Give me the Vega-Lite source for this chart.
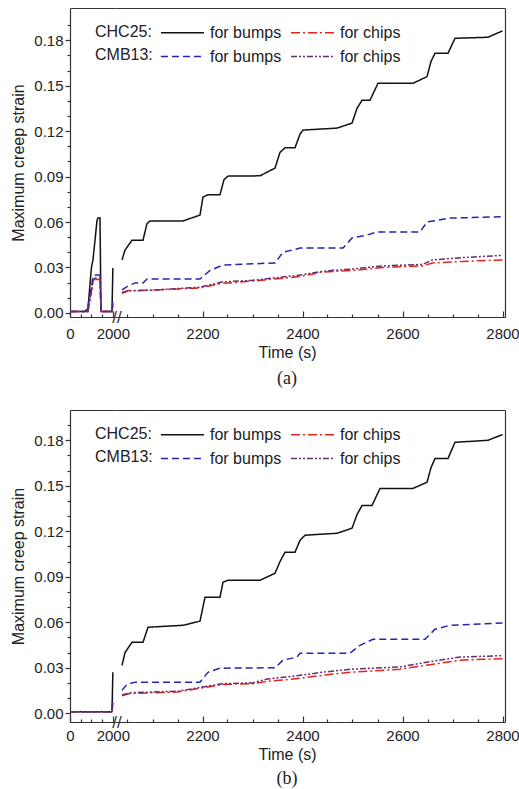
{
"$schema": "https://vega.github.io/schema/vega-lite/v6.json",
"padding": {"left": 10, "top": 8, "right": 15, "bottom": 2},
"config": {
  "font": "Liberation Sans",
  "view": {"stroke": null},
  "axis": {"labelFont": "Liberation Sans", "labelFontSize": 15, "labelColor": "#222", "titleFont": "Liberation Sans", "titleFontSize": 16, "titleFontWeight": "normal", "titleColor": "#222", "domainColor": "#333", "tickColor": "#333", "grid": false, "domainWidth": 1.2, "tickWidth": 1.2, "labelFlush": false, "labelOverlap": false},
  "title": {"font": "Liberation Serif", "fontSize": 18, "fontWeight": "normal", "color": "#222"},
  "line": {"strokeWidth": 1.5},
  "text": {"font": "Liberation Sans"},
  "legend": {"orient": "none", "legendX": -20, "legendY": 16, "columns": 2, "columnPadding": 5, "rowPadding": 7, "symbolType": "M-2.87,0H2.87", "symbolSize": 225, "symbolStrokeWidth": 1.5, "labelFont": "Liberation Sans", "labelFontSize": 16, "labelColor": "#222", "labelOffset": 19, "titleFont": "Liberation Sans", "titleFontSize": 16, "titleFontWeight": "normal", "titleColor": "#222", "titleLineHeight": 23, "titlePadding": 21, "titleOrient": "left", "titleBaseline": "top", "titleAnchor": "start"}
},
"data": {"values": [
{"p":"a","s":1,"k":"CHC25 bumps","t":0,"v":0.001},{"p":"a","s":1,"k":"CHC25 bumps","t":700,"v":0.001},{"p":"a","s":1,"k":"CHC25 bumps","t":840,"v":0.003},{"p":"a","s":1,"k":"CHC25 bumps","t":1000,"v":0.03},{"p":"a","s":1,"k":"CHC25 bumps","t":1073,"v":0.035},{"p":"a","s":1,"k":"CHC25 bumps","t":1260,"v":0.061},{"p":"a","s":1,"k":"CHC25 bumps","t":1300,"v":0.0626},{"p":"a","s":1,"k":"CHC25 bumps","t":1400,"v":0.0626},{"p":"a","s":1,"k":"CHC25 bumps","t":1447,"v":0.001},{"p":"a","s":1,"k":"CHC25 bumps","t":1960,"v":0.001},{"p":"a","s":1,"k":"CHC25 bumps","t":2000,"v":0.0297},
{"p":"a","s":1,"k":"CHC25 chips","t":0,"v":0.001},{"p":"a","s":1,"k":"CHC25 chips","t":840,"v":0.001},{"p":"a","s":1,"k":"CHC25 chips","t":1073,"v":0.02},{"p":"a","s":1,"k":"CHC25 chips","t":1170,"v":0.022},{"p":"a","s":1,"k":"CHC25 chips","t":1400,"v":0.022},{"p":"a","s":1,"k":"CHC25 chips","t":1447,"v":0.001},{"p":"a","s":1,"k":"CHC25 chips","t":1960,"v":0.001},{"p":"a","s":1,"k":"CHC25 chips","t":2000,"v":0.005},
{"p":"a","s":1,"k":"CMB13 bumps","t":0,"v":0.001},{"p":"a","s":1,"k":"CMB13 bumps","t":800,"v":0.001},{"p":"a","s":1,"k":"CMB13 bumps","t":1073,"v":0.0237},{"p":"a","s":1,"k":"CMB13 bumps","t":1120,"v":0.025},{"p":"a","s":1,"k":"CMB13 bumps","t":1400,"v":0.025},{"p":"a","s":1,"k":"CMB13 bumps","t":1447,"v":0.001},{"p":"a","s":1,"k":"CMB13 bumps","t":1960,"v":0.001},{"p":"a","s":1,"k":"CMB13 bumps","t":2000,"v":0.008},
{"p":"a","s":1,"k":"CMB13 chips","t":0,"v":0.001},{"p":"a","s":1,"k":"CMB13 chips","t":840,"v":0.001},{"p":"a","s":1,"k":"CMB13 chips","t":1073,"v":0.021},{"p":"a","s":1,"k":"CMB13 chips","t":1170,"v":0.023},{"p":"a","s":1,"k":"CMB13 chips","t":1400,"v":0.023},{"p":"a","s":1,"k":"CMB13 chips","t":1447,"v":0.001},{"p":"a","s":1,"k":"CMB13 chips","t":1960,"v":0.001},{"p":"a","s":1,"k":"CMB13 chips","t":2000,"v":0.006},
{"p":"a","s":2,"k":"CHC25 bumps","t":2039,"v":0.035},{"p":"a","s":2,"k":"CHC25 bumps","t":2045,"v":0.0415},{"p":"a","s":2,"k":"CHC25 bumps","t":2059,"v":0.048},{"p":"a","s":2,"k":"CHC25 bumps","t":2081,"v":0.048},{"p":"a","s":2,"k":"CHC25 bumps","t":2089,"v":0.059},{"p":"a","s":2,"k":"CHC25 bumps","t":2095,"v":0.0607},{"p":"a","s":2,"k":"CHC25 bumps","t":2161,"v":0.0607},{"p":"a","s":2,"k":"CHC25 bumps","t":2195,"v":0.0646},{"p":"a","s":2,"k":"CHC25 bumps","t":2201,"v":0.0765},{"p":"a","s":2,"k":"CHC25 bumps","t":2211,"v":0.078},{"p":"a","s":2,"k":"CHC25 bumps","t":2235,"v":0.078},{"p":"a","s":2,"k":"CHC25 bumps","t":2243,"v":0.088},{"p":"a","s":2,"k":"CHC25 bumps","t":2251,"v":0.0903},{"p":"a","s":2,"k":"CHC25 bumps","t":2315,"v":0.0905},{"p":"a","s":2,"k":"CHC25 bumps","t":2345,"v":0.0956},{"p":"a","s":2,"k":"CHC25 bumps","t":2355,"v":0.106},{"p":"a","s":2,"k":"CHC25 bumps","t":2365,"v":0.109},{"p":"a","s":2,"k":"CHC25 bumps","t":2385,"v":0.109},{"p":"a","s":2,"k":"CHC25 bumps","t":2395,"v":0.118},{"p":"a","s":2,"k":"CHC25 bumps","t":2401,"v":0.1207},{"p":"a","s":2,"k":"CHC25 bumps","t":2469,"v":0.122},{"p":"a","s":2,"k":"CHC25 bumps","t":2499,"v":0.1253},{"p":"a","s":2,"k":"CHC25 bumps","t":2509,"v":0.135},{"p":"a","s":2,"k":"CHC25 bumps","t":2519,"v":0.1404},{"p":"a","s":2,"k":"CHC25 bumps","t":2535,"v":0.1404},{"p":"a","s":2,"k":"CHC25 bumps","t":2551,"v":0.1516},{"p":"a","s":2,"k":"CHC25 bumps","t":2621,"v":0.1516},{"p":"a","s":2,"k":"CHC25 bumps","t":2649,"v":0.156},{"p":"a","s":2,"k":"CHC25 bumps","t":2657,"v":0.166},{"p":"a","s":2,"k":"CHC25 bumps","t":2665,"v":0.1714},{"p":"a","s":2,"k":"CHC25 bumps","t":2691,"v":0.1714},{"p":"a","s":2,"k":"CHC25 bumps","t":2705,"v":0.1813},{"p":"a","s":2,"k":"CHC25 bumps","t":2771,"v":0.182},{"p":"a","s":2,"k":"CHC25 bumps","t":2800,"v":0.1862},
{"p":"a","s":2,"k":"CHC25 chips","t":2039,"v":0.0135},{"p":"a","s":2,"k":"CHC25 chips","t":2051,"v":0.0148},{"p":"a","s":2,"k":"CHC25 chips","t":2100,"v":0.015},{"p":"a","s":2,"k":"CHC25 chips","t":2195,"v":0.0165},{"p":"a","s":2,"k":"CHC25 chips","t":2240,"v":0.0195},{"p":"a","s":2,"k":"CHC25 chips","t":2300,"v":0.021},{"p":"a","s":2,"k":"CHC25 chips","t":2395,"v":0.024},{"p":"a","s":2,"k":"CHC25 chips","t":2440,"v":0.027},{"p":"a","s":2,"k":"CHC25 chips","t":2500,"v":0.028},{"p":"a","s":2,"k":"CHC25 chips","t":2560,"v":0.03},{"p":"a","s":2,"k":"CHC25 chips","t":2640,"v":0.031},{"p":"a","s":2,"k":"CHC25 chips","t":2660,"v":0.033},{"p":"a","s":2,"k":"CHC25 chips","t":2720,"v":0.034},{"p":"a","s":2,"k":"CHC25 chips","t":2800,"v":0.035},
{"p":"a","s":2,"k":"CMB13 bumps","t":2039,"v":0.0152},{"p":"a","s":2,"k":"CMB13 bumps","t":2051,"v":0.0178},{"p":"a","s":2,"k":"CMB13 bumps","t":2065,"v":0.0198},{"p":"a","s":2,"k":"CMB13 bumps","t":2081,"v":0.0198},{"p":"a","s":2,"k":"CMB13 bumps","t":2089,"v":0.0224},{"p":"a","s":2,"k":"CMB13 bumps","t":2195,"v":0.0224},{"p":"a","s":2,"k":"CMB13 bumps","t":2215,"v":0.028},{"p":"a","s":2,"k":"CMB13 bumps","t":2241,"v":0.0316},{"p":"a","s":2,"k":"CMB13 bumps","t":2345,"v":0.033},{"p":"a","s":2,"k":"CMB13 bumps","t":2361,"v":0.04},{"p":"a","s":2,"k":"CMB13 bumps","t":2395,"v":0.0428},{"p":"a","s":2,"k":"CMB13 bumps","t":2481,"v":0.0428},{"p":"a","s":2,"k":"CMB13 bumps","t":2499,"v":0.0495},{"p":"a","s":2,"k":"CMB13 bumps","t":2529,"v":0.0514},{"p":"a","s":2,"k":"CMB13 bumps","t":2549,"v":0.0534},{"p":"a","s":2,"k":"CMB13 bumps","t":2635,"v":0.0534},{"p":"a","s":2,"k":"CMB13 bumps","t":2649,"v":0.06},{"p":"a","s":2,"k":"CMB13 bumps","t":2695,"v":0.0626},{"p":"a","s":2,"k":"CMB13 bumps","t":2800,"v":0.0635},
{"p":"a","s":2,"k":"CMB13 chips","t":2039,"v":0.013},{"p":"a","s":2,"k":"CMB13 chips","t":2051,"v":0.0145},{"p":"a","s":2,"k":"CMB13 chips","t":2100,"v":0.015},{"p":"a","s":2,"k":"CMB13 chips","t":2195,"v":0.017},{"p":"a","s":2,"k":"CMB13 chips","t":2240,"v":0.0205},{"p":"a","s":2,"k":"CMB13 chips","t":2300,"v":0.0215},{"p":"a","s":2,"k":"CMB13 chips","t":2395,"v":0.025},{"p":"a","s":2,"k":"CMB13 chips","t":2440,"v":0.0275},{"p":"a","s":2,"k":"CMB13 chips","t":2500,"v":0.029},{"p":"a","s":2,"k":"CMB13 chips","t":2560,"v":0.031},{"p":"a","s":2,"k":"CMB13 chips","t":2640,"v":0.032},{"p":"a","s":2,"k":"CMB13 chips","t":2660,"v":0.035},{"p":"a","s":2,"k":"CMB13 chips","t":2720,"v":0.0365},{"p":"a","s":2,"k":"CMB13 chips","t":2800,"v":0.038},
{"p":"b","s":1,"k":"CHC25 bumps","t":0,"v":0.001},{"p":"b","s":1,"k":"CHC25 bumps","t":1960,"v":0.001},{"p":"b","s":1,"k":"CHC25 bumps","t":2000,"v":0.027},
{"p":"b","s":1,"k":"CHC25 chips","t":0,"v":0.001},{"p":"b","s":1,"k":"CHC25 chips","t":1960,"v":0.001},{"p":"b","s":1,"k":"CHC25 chips","t":2000,"v":0.006},
{"p":"b","s":1,"k":"CMB13 bumps","t":0,"v":0.001},{"p":"b","s":1,"k":"CMB13 bumps","t":1960,"v":0.001},{"p":"b","s":1,"k":"CMB13 bumps","t":2000,"v":0.01},
{"p":"b","s":1,"k":"CMB13 chips","t":0,"v":0.001},{"p":"b","s":1,"k":"CMB13 chips","t":1960,"v":0.001},{"p":"b","s":1,"k":"CMB13 chips","t":2000,"v":0.007},
{"p":"b","s":2,"k":"CHC25 bumps","t":2039,"v":0.0316},{"p":"b","s":2,"k":"CHC25 bumps","t":2045,"v":0.04},{"p":"b","s":2,"k":"CHC25 bumps","t":2059,"v":0.0468},{"p":"b","s":2,"k":"CHC25 bumps","t":2081,"v":0.0468},{"p":"b","s":2,"k":"CHC25 bumps","t":2091,"v":0.0567},{"p":"b","s":2,"k":"CHC25 bumps","t":2161,"v":0.058},{"p":"b","s":2,"k":"CHC25 bumps","t":2195,"v":0.0607},{"p":"b","s":2,"k":"CHC25 bumps","t":2205,"v":0.0765},{"p":"b","s":2,"k":"CHC25 bumps","t":2235,"v":0.0765},{"p":"b","s":2,"k":"CHC25 bumps","t":2241,"v":0.0864},{"p":"b","s":2,"k":"CHC25 bumps","t":2251,"v":0.0877},{"p":"b","s":2,"k":"CHC25 bumps","t":2315,"v":0.0877},{"p":"b","s":2,"k":"CHC25 bumps","t":2345,"v":0.0923},{"p":"b","s":2,"k":"CHC25 bumps","t":2355,"v":0.1},{"p":"b","s":2,"k":"CHC25 bumps","t":2365,"v":0.1062},{"p":"b","s":2,"k":"CHC25 bumps","t":2385,"v":0.1062},{"p":"b","s":2,"k":"CHC25 bumps","t":2395,"v":0.114},{"p":"b","s":2,"k":"CHC25 bumps","t":2405,"v":0.1174},{"p":"b","s":2,"k":"CHC25 bumps","t":2469,"v":0.1187},{"p":"b","s":2,"k":"CHC25 bumps","t":2499,"v":0.122},{"p":"b","s":2,"k":"CHC25 bumps","t":2509,"v":0.131},{"p":"b","s":2,"k":"CHC25 bumps","t":2519,"v":0.137},{"p":"b","s":2,"k":"CHC25 bumps","t":2539,"v":0.137},{"p":"b","s":2,"k":"CHC25 bumps","t":2555,"v":0.1483},{"p":"b","s":2,"k":"CHC25 bumps","t":2621,"v":0.1483},{"p":"b","s":2,"k":"CHC25 bumps","t":2649,"v":0.1523},{"p":"b","s":2,"k":"CHC25 bumps","t":2657,"v":0.162},{"p":"b","s":2,"k":"CHC25 bumps","t":2665,"v":0.168},{"p":"b","s":2,"k":"CHC25 bumps","t":2691,"v":0.168},{"p":"b","s":2,"k":"CHC25 bumps","t":2705,"v":0.1787},{"p":"b","s":2,"k":"CHC25 bumps","t":2771,"v":0.18},{"p":"b","s":2,"k":"CHC25 bumps","t":2800,"v":0.1838},
{"p":"b","s":2,"k":"CHC25 chips","t":2039,"v":0.0115},{"p":"b","s":2,"k":"CHC25 chips","t":2055,"v":0.013},{"p":"b","s":2,"k":"CHC25 chips","t":2150,"v":0.014},{"p":"b","s":2,"k":"CHC25 chips","t":2195,"v":0.0165},{"p":"b","s":2,"k":"CHC25 chips","t":2241,"v":0.019},{"p":"b","s":2,"k":"CHC25 chips","t":2300,"v":0.0195},{"p":"b","s":2,"k":"CHC25 chips","t":2330,"v":0.021},{"p":"b","s":2,"k":"CHC25 chips","t":2395,"v":0.023},{"p":"b","s":2,"k":"CHC25 chips","t":2440,"v":0.025},{"p":"b","s":2,"k":"CHC25 chips","t":2495,"v":0.027},{"p":"b","s":2,"k":"CHC25 chips","t":2595,"v":0.029},{"p":"b","s":2,"k":"CHC25 chips","t":2655,"v":0.032},{"p":"b","s":2,"k":"CHC25 chips","t":2715,"v":0.035},{"p":"b","s":2,"k":"CHC25 chips","t":2800,"v":0.036},
{"p":"b","s":2,"k":"CMB13 bumps","t":2039,"v":0.0152},{"p":"b","s":2,"k":"CMB13 bumps","t":2049,"v":0.019},{"p":"b","s":2,"k":"CMB13 bumps","t":2065,"v":0.0205},{"p":"b","s":2,"k":"CMB13 bumps","t":2195,"v":0.0205},{"p":"b","s":2,"k":"CMB13 bumps","t":2211,"v":0.027},{"p":"b","s":2,"k":"CMB13 bumps","t":2235,"v":0.0297},{"p":"b","s":2,"k":"CMB13 bumps","t":2345,"v":0.03},{"p":"b","s":2,"k":"CMB13 bumps","t":2361,"v":0.035},{"p":"b","s":2,"k":"CMB13 bumps","t":2389,"v":0.037},{"p":"b","s":2,"k":"CMB13 bumps","t":2395,"v":0.0396},{"p":"b","s":2,"k":"CMB13 bumps","t":2495,"v":0.0396},{"p":"b","s":2,"k":"CMB13 bumps","t":2515,"v":0.0448},{"p":"b","s":2,"k":"CMB13 bumps","t":2541,"v":0.0488},{"p":"b","s":2,"k":"CMB13 bumps","t":2645,"v":0.0488},{"p":"b","s":2,"k":"CMB13 bumps","t":2665,"v":0.0554},{"p":"b","s":2,"k":"CMB13 bumps","t":2695,"v":0.058},{"p":"b","s":2,"k":"CMB13 bumps","t":2800,"v":0.0595},
{"p":"b","s":2,"k":"CMB13 chips","t":2039,"v":0.012},{"p":"b","s":2,"k":"CMB13 chips","t":2055,"v":0.0135},{"p":"b","s":2,"k":"CMB13 chips","t":2150,"v":0.0145},{"p":"b","s":2,"k":"CMB13 chips","t":2195,"v":0.017},{"p":"b","s":2,"k":"CMB13 chips","t":2241,"v":0.0195},{"p":"b","s":2,"k":"CMB13 chips","t":2300,"v":0.02},{"p":"b","s":2,"k":"CMB13 chips","t":2330,"v":0.0225},{"p":"b","s":2,"k":"CMB13 chips","t":2395,"v":0.025},{"p":"b","s":2,"k":"CMB13 chips","t":2440,"v":0.027},{"p":"b","s":2,"k":"CMB13 chips","t":2495,"v":0.029},{"p":"b","s":2,"k":"CMB13 chips","t":2595,"v":0.0305},{"p":"b","s":2,"k":"CMB13 chips","t":2655,"v":0.034},{"p":"b","s":2,"k":"CMB13 chips","t":2715,"v":0.037},{"p":"b","s":2,"k":"CMB13 chips","t":2800,"v":0.038}
]},
"spacing": 22,
"resolve": {"legend": {"color": "independent", "strokeDash": "independent"}},
"vconcat": [
{
 "title": {"text": "(a)", "orient": "bottom", "anchor": "middle", "dx": 22, "offset": 10},
 "spacing": 0, "bounds": "flush",
 "resolve": {"scale": {"x": "independent"}, "legend": {"color": "independent", "strokeDash": "independent"}},
 "hconcat": [
  {
   "width": 45, "height": 309,
   "transform": [{"filter": "datum.p=='a' && datum.s==1"}],
   "resolve": {"axis": {"x": "independent", "y": "independent"}},
   "layer": [
    {"transform": [{"filter": "datum.k=='CHC25 bumps'"}], "mark": {"type": "line", "clip": true},
     "encoding": {
      "x": {"field": "t", "type": "quantitative", "scale": {"domain": [0, 2100], "nice": false, "zero": false}, "axis": {"orient": "bottom", "title": null, "values": [0, 2000], "format": "d", "tickSize": -6, "labelPadding": 15}},
      "y": {"field": "v", "type": "quantitative", "scale": {"domain": [-0.0027, 0.2013], "nice": false, "zero": false}, "axis": {"orient": "left", "title": "Maximum creep strain", "values": [0, 0.03, 0.06, 0.09, 0.12, 0.15, 0.18], "format": ".2f", "tickSize": 5, "labelPadding": 2, "titlePadding": 7}},
      "color": {"field": "k", "type": "nominal", "legend": null, "scale": {"domain": ["CHC25 bumps", "CMB13 bumps", "CHC25 chips", "CMB13 chips"], "range": ["#111111", "#2525b0", "#e3241c", "#6c2a70"]}},
      "strokeDash": {"field": "k", "type": "nominal", "legend": null, "scale": {"domain": ["CHC25 bumps", "CMB13 bumps", "CHC25 chips", "CMB13 chips"], "range": [[1, 0], [7, 4], [9, 3, 2, 3], [6, 2, 2, 2, 2, 2]]}}
     }},
    {"transform": [{"filter": "datum.k=='CHC25 chips'"}], "mark": {"type": "line", "clip": true},
     "encoding": {
      "x": {"field": "t", "type": "quantitative", "axis": {"orient": "top", "title": null, "ticks": false, "labels": false}},
      "y": {"field": "v", "type": "quantitative", "axis": null},
      "color": {"field": "k", "type": "nominal", "legend": null},
      "strokeDash": {"field": "k", "type": "nominal", "legend": null}
     }},
    {"transform": [{"filter": "datum.k=='CMB13 bumps'"}], "mark": {"type": "line", "clip": true},
     "encoding": {
      "x": {"field": "t", "type": "quantitative", "axis": {"orient": "bottom", "title": null, "values": [500, 1000, 1500], "tickSize": -3, "labels": false, "domain": false}},
      "y": {"field": "v", "type": "quantitative", "axis": {"orient": "left", "title": null, "values": [0.01, 0.02, 0.04, 0.05, 0.07, 0.08, 0.1, 0.11, 0.13, 0.14, 0.16, 0.17, 0.19], "tickSize": 3, "labels": false, "domain": false}},
      "color": {"field": "k", "type": "nominal", "legend": null},
      "strokeDash": {"field": "k", "type": "nominal", "legend": null}
     }},
    {"transform": [{"filter": "datum.k=='CMB13 chips'"}], "mark": {"type": "line", "clip": true},
     "encoding": {
      "x": {"field": "t", "type": "quantitative", "axis": null},
      "y": {"field": "v", "type": "quantitative", "axis": null},
      "color": {"field": "k", "type": "nominal", "legend": null},
      "strokeDash": {"field": "k", "type": "nominal", "legend": null}
     }}
   ]
  },
  {
   "width": 390, "height": 309,
   "transform": [{"filter": "datum.p=='a' && datum.s==2"}],
   "resolve": {"axis": {"x": "independent", "y": "independent"}},
   "layer": [
    {"transform": [{"filter": "datum.k=='CHC25 bumps'"}], "mark": {"type": "line", "clip": true},
     "encoding": {
      "x": {"field": "t", "type": "quantitative", "scale": {"domain": [2025, 2805], "nice": false, "zero": false}, "axis": {"orient": "bottom", "title": "Time (s)", "titleX": 172, "titlePadding": 3, "values": [2200, 2400, 2600, 2800], "format": "d", "tickSize": -6, "labelPadding": 15}},
      "y": {"field": "v", "type": "quantitative", "scale": {"domain": [-0.0027, 0.2013], "nice": false, "zero": false}, "axis": null},
      "color": {"field": "k", "type": "nominal", "scale": {"domain": ["CHC25 bumps", "CMB13 bumps", "CHC25 chips", "CMB13 chips"], "range": ["#111111", "#2525b0", "#e3241c", "#6c2a70"]}, "legend": {"title": ["CHC25:", "CMB13:"], "labelExpr": "indexof(datum.label,'bumps')>=0 ? 'for bumps' : 'for chips'"}},
      "strokeDash": {"field": "k", "type": "nominal", "scale": {"domain": ["CHC25 bumps", "CMB13 bumps", "CHC25 chips", "CMB13 chips"], "range": [[1, 0], [7, 4], [9, 3, 2, 3], [6, 2, 2, 2, 2, 2]]}, "legend": {"title": ["CHC25:", "CMB13:"], "labelExpr": "indexof(datum.label,'bumps')>=0 ? 'for bumps' : 'for chips'"}}
     }},
    {"transform": [{"filter": "datum.k=='CHC25 chips'"}], "mark": {"type": "line", "clip": true},
     "encoding": {
      "x": {"field": "t", "type": "quantitative", "axis": {"orient": "top", "title": null, "ticks": false, "labels": false}},
      "y": {"field": "v", "type": "quantitative", "axis": {"orient": "right", "title": null, "ticks": false, "labels": false}},
      "color": {"field": "k", "type": "nominal", "legend": null},
      "strokeDash": {"field": "k", "type": "nominal", "legend": null}
     }},
    {"transform": [{"filter": "datum.k=='CMB13 bumps'"}], "mark": {"type": "line", "clip": true},
     "encoding": {
      "x": {"field": "t", "type": "quantitative", "axis": {"orient": "bottom", "title": null, "values": [2050, 2100, 2150, 2250, 2300, 2350, 2450, 2500, 2550, 2650, 2700, 2750], "tickSize": -3, "labels": false, "domain": false}},
      "y": {"field": "v", "type": "quantitative", "axis": null},
      "color": {"field": "k", "type": "nominal", "legend": null},
      "strokeDash": {"field": "k", "type": "nominal", "legend": null}
     }},
    {"transform": [{"filter": "datum.k=='CMB13 chips'"}], "mark": {"type": "line", "clip": true},
     "encoding": {
      "x": {"field": "t", "type": "quantitative", "axis": null},
      "y": {"field": "v", "type": "quantitative", "axis": null},
      "color": {"field": "k", "type": "nominal", "legend": null},
      "strokeDash": {"field": "k", "type": "nominal", "legend": null}
     }},
    {"data": {"values": [{"brk": "axis break"}]},
     "mark": {"type": "text", "text": "//", "fontSize": 17, "dx": -3, "dy": 1, "clip": false, "color": "#333"},
     "encoding": {"x": {"datum": 2035, "type": "quantitative", "axis": null}, "y": {"datum": -0.0027, "type": "quantitative", "axis": null}}}
   ]
  }
 ]
},
{
 "title": {"text": "(b)", "orient": "bottom", "anchor": "middle", "dx": 22, "offset": 8},
 "spacing": 0, "bounds": "flush",
 "resolve": {"scale": {"x": "independent"}, "legend": {"color": "independent", "strokeDash": "independent"}},
 "hconcat": [
  {
   "width": 45, "height": 312,
   "transform": [{"filter": "datum.p=='b' && datum.s==1"}],
   "resolve": {"axis": {"x": "independent", "y": "independent"}},
   "layer": [
    {"transform": [{"filter": "datum.k=='CHC25 bumps'"}], "mark": {"type": "line", "clip": true},
     "encoding": {
      "x": {"field": "t", "type": "quantitative", "scale": {"domain": [0, 2100], "nice": false, "zero": false}, "axis": {"orient": "bottom", "title": null, "values": [0, 2000], "format": "d", "tickSize": -6, "labelPadding": 12}},
      "y": {"field": "v", "type": "quantitative", "scale": {"domain": [-0.0058, 0.2], "nice": false, "zero": false}, "axis": {"orient": "left", "title": "Maximum creep strain", "values": [0, 0.03, 0.06, 0.09, 0.12, 0.15, 0.18], "format": ".2f", "tickSize": 5, "labelPadding": 2, "titlePadding": 7}},
      "color": {"field": "k", "type": "nominal", "legend": null, "scale": {"domain": ["CHC25 bumps", "CMB13 bumps", "CHC25 chips", "CMB13 chips"], "range": ["#111111", "#2525b0", "#e3241c", "#6c2a70"]}},
      "strokeDash": {"field": "k", "type": "nominal", "legend": null, "scale": {"domain": ["CHC25 bumps", "CMB13 bumps", "CHC25 chips", "CMB13 chips"], "range": [[1, 0], [7, 4], [9, 3, 2, 3], [6, 2, 2, 2, 2, 2]]}}
     }},
    {"transform": [{"filter": "datum.k=='CHC25 chips'"}], "mark": {"type": "line", "clip": true},
     "encoding": {
      "x": {"field": "t", "type": "quantitative", "axis": {"orient": "top", "title": null, "ticks": false, "labels": false}},
      "y": {"field": "v", "type": "quantitative", "axis": null},
      "color": {"field": "k", "type": "nominal", "legend": null},
      "strokeDash": {"field": "k", "type": "nominal", "legend": null}
     }},
    {"transform": [{"filter": "datum.k=='CMB13 bumps'"}], "mark": {"type": "line", "clip": true},
     "encoding": {
      "x": {"field": "t", "type": "quantitative", "axis": {"orient": "bottom", "title": null, "values": [500, 1000, 1500], "tickSize": -3, "labels": false, "domain": false}},
      "y": {"field": "v", "type": "quantitative", "axis": {"orient": "left", "title": null, "values": [0.01, 0.02, 0.04, 0.05, 0.07, 0.08, 0.1, 0.11, 0.13, 0.14, 0.16, 0.17, 0.19], "tickSize": 3, "labels": false, "domain": false}},
      "color": {"field": "k", "type": "nominal", "legend": null},
      "strokeDash": {"field": "k", "type": "nominal", "legend": null}
     }},
    {"transform": [{"filter": "datum.k=='CMB13 chips'"}], "mark": {"type": "line", "clip": true},
     "encoding": {
      "x": {"field": "t", "type": "quantitative", "axis": null},
      "y": {"field": "v", "type": "quantitative", "axis": null},
      "color": {"field": "k", "type": "nominal", "legend": null},
      "strokeDash": {"field": "k", "type": "nominal", "legend": null}
     }}
   ]
  },
  {
   "width": 390, "height": 312,
   "transform": [{"filter": "datum.p=='b' && datum.s==2"}],
   "resolve": {"axis": {"x": "independent", "y": "independent"}},
   "layer": [
    {"transform": [{"filter": "datum.k=='CHC25 bumps'"}], "mark": {"type": "line", "clip": true},
     "encoding": {
      "x": {"field": "t", "type": "quantitative", "scale": {"domain": [2025, 2805], "nice": false, "zero": false}, "axis": {"orient": "bottom", "title": "Time (s)", "titleX": 172, "titlePadding": 3, "values": [2200, 2400, 2600, 2800], "format": "d", "tickSize": -6, "labelPadding": 12}},
      "y": {"field": "v", "type": "quantitative", "scale": {"domain": [-0.0058, 0.2], "nice": false, "zero": false}, "axis": null},
      "color": {"field": "k", "type": "nominal", "scale": {"domain": ["CHC25 bumps", "CMB13 bumps", "CHC25 chips", "CMB13 chips"], "range": ["#111111", "#2525b0", "#e3241c", "#6c2a70"]}, "legend": {"title": ["CHC25:", "CMB13:"], "labelExpr": "indexof(datum.label,'bumps')>=0 ? 'for bumps' : 'for chips'"}},
      "strokeDash": {"field": "k", "type": "nominal", "scale": {"domain": ["CHC25 bumps", "CMB13 bumps", "CHC25 chips", "CMB13 chips"], "range": [[1, 0], [7, 4], [9, 3, 2, 3], [6, 2, 2, 2, 2, 2]]}, "legend": {"title": ["CHC25:", "CMB13:"], "labelExpr": "indexof(datum.label,'bumps')>=0 ? 'for bumps' : 'for chips'"}}
     }},
    {"transform": [{"filter": "datum.k=='CHC25 chips'"}], "mark": {"type": "line", "clip": true},
     "encoding": {
      "x": {"field": "t", "type": "quantitative", "axis": {"orient": "top", "title": null, "ticks": false, "labels": false}},
      "y": {"field": "v", "type": "quantitative", "axis": {"orient": "right", "title": null, "ticks": false, "labels": false}},
      "color": {"field": "k", "type": "nominal", "legend": null},
      "strokeDash": {"field": "k", "type": "nominal", "legend": null}
     }},
    {"transform": [{"filter": "datum.k=='CMB13 bumps'"}], "mark": {"type": "line", "clip": true},
     "encoding": {
      "x": {"field": "t", "type": "quantitative", "axis": {"orient": "bottom", "title": null, "values": [2050, 2100, 2150, 2250, 2300, 2350, 2450, 2500, 2550, 2650, 2700, 2750], "tickSize": -3, "labels": false, "domain": false}},
      "y": {"field": "v", "type": "quantitative", "axis": null},
      "color": {"field": "k", "type": "nominal", "legend": null},
      "strokeDash": {"field": "k", "type": "nominal", "legend": null}
     }},
    {"transform": [{"filter": "datum.k=='CMB13 chips'"}], "mark": {"type": "line", "clip": true},
     "encoding": {
      "x": {"field": "t", "type": "quantitative", "axis": null},
      "y": {"field": "v", "type": "quantitative", "axis": null},
      "color": {"field": "k", "type": "nominal", "legend": null},
      "strokeDash": {"field": "k", "type": "nominal", "legend": null}
     }},
    {"data": {"values": [{"brk": "axis break"}]},
     "mark": {"type": "text", "text": "//", "fontSize": 17, "dx": -3, "dy": 1, "clip": false, "color": "#333"},
     "encoding": {"x": {"datum": 2035, "type": "quantitative", "axis": null}, "y": {"datum": -0.0058, "type": "quantitative", "axis": null}}}
   ]
  }
 ]
}
]
}
